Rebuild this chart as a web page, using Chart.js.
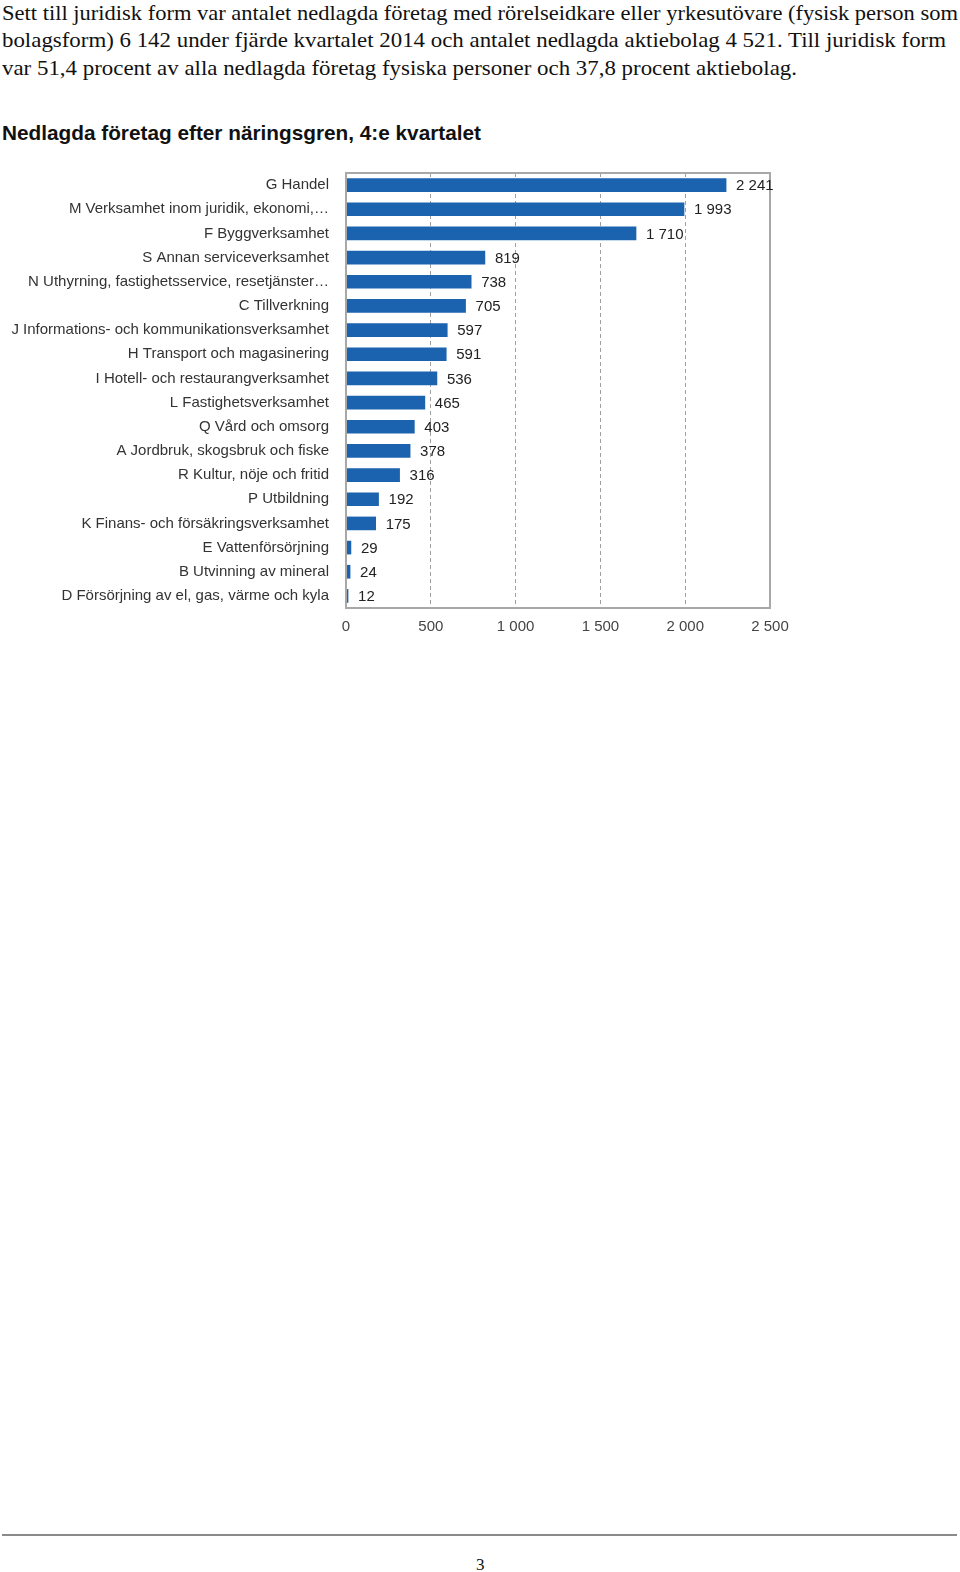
<!DOCTYPE html>
<html>
<head>
<meta charset="utf-8">
<script src="https://cdn.jsdelivr.net/npm/chart.js@4.4.1/dist/chart.umd.min.js"></script>
<style>
    body { margin: 0; width: 960px; height: 1572px; position: relative; background: #fff; overflow: hidden; }
    .para { position: absolute; left: 2px; font-family: "Liberation Serif", "Times New Roman", serif; font-size: 22px; color: #111; white-space: nowrap; transform-origin: 0 0; }
    .title { position: absolute; left: 2px; top: 121px; font-family: "Liberation Sans", Arial, sans-serif; font-weight: bold; font-size: 21px; color: #111; white-space: nowrap; transform-origin: 0 0; }
    .chart-box { position: absolute; left: 0; top: 165px; width: 800px; height: 480px; }
    .footer-line { position: absolute; left: 2px; top: 1534px; width: 955px; height: 2px; background: #8a8a8a; }
    .page-no { position: absolute; left: 476px; top: 1555px; font-family: "Liberation Serif", serif; font-size: 17px; color: #111; }
</style>
</head>
<body>

<div class="para" style="top: 0px;">Sett till juridisk form var antalet nedlagda företag med rörelseidkare eller yrkesutövare (fysisk person som</div>
<div class="para" style="top: 27px;">bolagsform) 6 142 under fjärde kvartalet 2014 och antalet nedlagda aktiebolag 4 521. Till juridisk form</div>
<div class="para" style="top: 55px;">var 51,4 procent av alla nedlagda företag fysiska personer och 37,8 procent aktiebolag.</div>

<div class="title" id="title">Nedlagda företag efter näringsgren, 4:e kvartalet</div>

<div class="chart-box"><canvas id="barChart" width="800" height="480"></canvas></div>

<div class="footer-line"></div>
<div class="page-no">3</div>

<script>
// Chart data
const industries = [
    'G Handel',
    'M Verksamhet inom juridik, ekonomi,…',
    'F Byggverksamhet',
    'S Annan serviceverksamhet',
    'N Uthyrning, fastighetsservice, resetjänster…',
    'C Tillverkning',
    'J Informations- och kommunikationsverksamhet',
    'H Transport och magasinering',
    'I Hotell- och restaurangverksamhet',
    'L Fastighetsverksamhet',
    'Q Vård och omsorg',
    'A Jordbruk, skogsbruk och fiske',
    'R Kultur, nöje och fritid',
    'P Utbildning',
    'K Finans- och försäkringsverksamhet',
    'E Vattenförsörjning',
    'B Utvinning av mineral',
    'D Försörjning av el, gas, värme och kyla'
];
const closedCompanies = [2241, 1993, 1710, 819, 738, 705, 597, 591, 536, 465, 403, 378, 316, 192, 175, 29, 24, 12];
const xTicks = [0, 500, 1000, 1500, 2000, 2500];

// Swedish number format with space as thousands separator
function fmt(n) {
    return String(n).replace(/\B(?=(\d{3})+(?!\d))/g, ' ');
}

// Scale text lines to their full printed width
function fitText() {
    const widths = [956, 944, 795];
    document.querySelectorAll('.para').forEach((el, i) => {
        const w = el.getBoundingClientRect().width;
        el.style.transform = `scaleX(${widths[i] / w})`;
    });
    const title = document.getElementById('title');
    title.style.transform = `scaleX(${479 / title.getBoundingClientRect().width})`;
}
fitText();

// Plot frame
const plotFrame = {
    id: 'plotFrame',
    afterDraw(chart) {
        const { ctx, chartArea: a } = chart;
        ctx.save();
        ctx.strokeStyle = '#a8a8a8';
        ctx.lineWidth = 2;
        ctx.strokeRect(a.left, a.top, a.right - a.left, a.bottom - a.top);
        ctx.restore();
    }
};

// Value labels at the end of each bar (drawn on top of the frame)
const valueLabels = {
    id: 'valueLabels',
    afterDraw(chart) {
        const { ctx } = chart;
        const meta = chart.getDatasetMeta(0);
        ctx.save();
        ctx.font = '15px "Liberation Sans", Arial, sans-serif';
        ctx.fillStyle = '#222';
        ctx.textBaseline = 'middle';
        meta.data.forEach((bar, i) => {
            ctx.fillText(fmt(closedCompanies[i]), bar.x + 10, bar.y + 1);
        });
        ctx.restore();
    }
};

new Chart(document.getElementById('barChart'), {
    type: 'bar',
    data: {
        labels: industries,
        datasets: [{
            data: closedCompanies,
            backgroundColor: '#1b63ae',
            barThickness: 13
        }]
    },
    options: {
        indexAxis: 'y',
        responsive: false,
        animation: false,
        layout: { padding: { top: 8, right: 30, bottom: 4, left: 0 } },
        plugins: {
            legend: { display: false },
            tooltip: { enabled: false }
        },
        scales: {
            x: {
                min: 0,
                max: 2500,
                afterBuildTicks: scale => { scale.ticks = xTicks.map(v => ({ value: v })); },
                afterFit: scale => { scale.height = 33; scale.paddingLeft = 0; scale.paddingRight = 0; },
                grid: { color: '#a0a0a0', lineWidth: 1, drawTicks: false },
                border: { display: false, dash: [4, 3] },
                ticks: {
                    padding: 10,
                    color: '#444',
                    font: { family: '"Liberation Sans", Arial, sans-serif', size: 15 },
                    callback: v => fmt(v)
                }
            },
            y: {
                afterFit: scale => { scale.width = 346; scale.paddingTop = 0; scale.paddingBottom = 0; },
                grid: { display: false },
                border: { display: false },
                ticks: {
                    padding: 9,
                    color: '#333',
                    font: { family: '"Liberation Sans", Arial, sans-serif', size: 15 }
                }
            }
        }
    },
    plugins: [plotFrame, valueLabels]
});
</script>
</body>
</html>
